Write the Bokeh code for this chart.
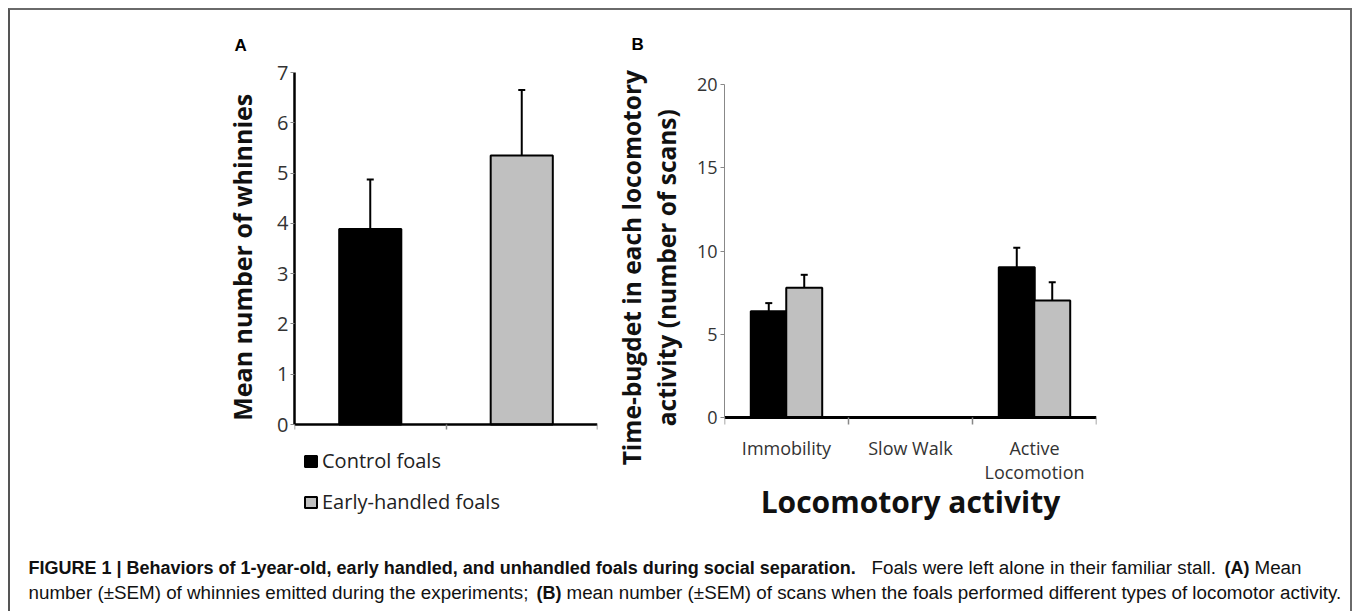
from bokeh.plotting import figure
from bokeh.layouts import row, column
from bokeh.models import (ColumnDataSource, FixedTicker, Whisker, TeeHead, Legend,
                          LegendItem, Label, Range1d, Title)
from bokeh.embed import file_html
from bokeh.resources import INLINE

# ---------------- data ----------------
# Panel A: mean number of whinnies (+SEM)
groups = ["Control foals", "Early-handled foals"]
whinnies_mean = [3.89, 5.35]
whinnies_sem = [0.98, 1.30]
a_ticks = [0, 1, 2, 3, 4, 5, 6, 7]

# Panel B: time budget per locomotory activity (+SEM)
activities = ["Immobility", "Slow Walk", "Active\nLocomotion"]
control_scans = [6.38, 0.0, 9.03]
control_sem = [0.49, 0.0, 1.16]
handled_scans = [7.79, 0.0, 7.03]
handled_sem = [0.78, 0.0, 1.10]
b_ticks = [0, 5, 10, 15, 20]

group_colors = ["#000000", "#c0c0c0"]

a_ylabel = "Mean number of whinnies"
b_ylabel = ["Time-bugdet in each locomotory", "activity (number of scans)"]
b_xlabel = "Locomotory activity"

caption_line1 = [
    ("FIGURE 1 | Behaviors of 1-year-old, early handled, and unhandled foals during social separation.", "bold"),
    ("Foals were left alone in their familiar stall.", "normal"),
    ("(A)", "bold"),
    ("Mean", "normal"),
]
caption_line2 = [
    ("number (\u00b1SEM) of whinnies emitted during the experiments;", "normal"),
    ("(B)", "bold"),
    ("mean number (\u00b1SEM) of scans when the foals performed different types of locomotor activity.", "normal"),
]

FONT = "Open Sans"
CAP_FONT = "Liberation Sans"
NB = "\u00a0"          # non-breaking space: nudges the rotated axis titles along their axis

FRAME_H = 454          # common frame height for both panels (px)
A_MAX, B_MAX = 7, 20   # axis maxima
A_UNIT = 352 / A_MAX   # px per unit, panel A
B_UNIT = 333 / B_MAX   # px per unit, panel B

# ---------------- panel A ----------------
a_lo = -(FRAME_H - 352) / A_UNIT
pa = figure(frame_width=303, frame_height=FRAME_H, x_range=Range1d(0, len(groups)),
            y_range=Range1d(a_lo, A_MAX),
            output_backend="svg", toolbar_location=None,
            min_border_left=284, min_border_right=3, min_border_top=62, min_border_bottom=29)
pa.align = "start"
pa.grid.visible = False
pa.outline_line_color = None
pa.title = Title(text="A", align="left", offset=-60, standoff=36, text_font=CAP_FONT,
                 text_font_style="bold", text_font_size="17px", text_color="black")

src_a = ColumnDataSource(dict(
    x=[i + 0.5 for i in range(len(groups))],
    top=whinnies_mean,
    upper=[m + s for m, s in zip(whinnies_mean, whinnies_sem)],
    color=group_colors,
    label=groups,
))
ra = pa.vbar(x="x", top="top", width=0.41, fill_color="color", line_color="black",
             line_width=2, source=src_a)
pa.add_layout(Whisker(base="x", lower="top", upper="upper", source=src_a, dimension="height",
                      line_color="black", line_width=2,
                      lower_head=TeeHead(size=0, line_alpha=0),
                      upper_head=TeeHead(size=7, line_width=2, line_color="black")))

a_bounds = list(range(len(groups) + 1))
pa.xaxis.fixed_location = 0
pa.xaxis.ticker = FixedTicker(ticks=a_bounds)
pa.xaxis.major_label_overrides = {b: " " for b in a_bounds}
pa.xaxis.major_label_text_font_size = "6px"
pa.xaxis.axis_line_color = "black"
pa.xaxis.axis_line_width = 2.5
pa.xaxis.major_tick_line_color = "#888888"
pa.xaxis.major_tick_line_width = 1.5
pa.xaxis.major_tick_out = 5
pa.xaxis.major_tick_in = 0
pa.xaxis.minor_tick_line_color = None

pa.yaxis.bounds = (0, A_MAX)
pa.yaxis.ticker = FixedTicker(ticks=a_ticks)
pa.yaxis.axis_line_color = "black"
pa.yaxis.axis_line_width = 2.5
pa.yaxis.major_tick_line_color = "#888888"
pa.yaxis.major_tick_out = 4
pa.yaxis.major_tick_in = 0
pa.yaxis.minor_tick_line_color = None
pa.yaxis.major_label_text_font = FONT
pa.yaxis.major_label_text_font_size = "20px"
pa.yaxis.major_label_text_color = "#333333"
pa.yaxis.major_label_standoff = 2
pa.yaxis.axis_label = NB * 13 + a_ylabel
pa.yaxis.axis_label_text_font = FONT
pa.yaxis.axis_label_text_font_style = "bold"
pa.yaxis.axis_label_text_font_size = "25px"
pa.yaxis.axis_label_text_color = "#111111"
pa.yaxis.axis_label_standoff = 15

legend = Legend(items=[LegendItem(label=g, renderers=[ra], index=i) for i, g in enumerate(groups)],
                location=(9, 11), orientation="vertical")
legend.border_line_color = None
legend.background_fill_alpha = 0
legend.glyph_width = 15
legend.glyph_height = 14
legend.label_text_font = FONT
legend.label_text_font_size = "20px"
legend.label_text_color = "#222222"
legend.label_standoff = 4
legend.spacing = 14
legend.padding = 11
legend.margin = 0
pa.add_layout(legend)

# ---------------- panel B ----------------
b_hi = B_MAX + 12 / B_UNIT
b_lo = -(FRAME_H - 333 - 12) / B_UNIT
pb = figure(frame_width=372, frame_height=FRAME_H, x_range=Range1d(0, len(activities)),
            y_range=Range1d(b_lo, b_hi),
            output_backend="svg", toolbar_location=None,
            min_border_left=124, min_border_right=254, min_border_top=62, min_border_bottom=29)
pb.align = "start"
pb.grid.visible = False
pb.outline_line_color = None
pb.title = Title(text="B", align="left", offset=-93, standoff=37, text_font=CAP_FONT,
                 text_font_style="bold", text_font_size="17px", text_color="black")

dodge = 0.143
bar_w = 0.29
series = [(control_scans, control_sem, -dodge, group_colors[0]),
          (handled_scans, handled_sem, dodge, group_colors[1])]
for vals, sems, off, col in series:
    xs = [i + 0.5 + off for i, v in enumerate(vals) if v > 0]
    tops = [v for v in vals if v > 0]
    ups = [v + s for v, s in zip(vals, sems) if v > 0]
    s = ColumnDataSource(dict(x=xs, top=tops, upper=ups))
    pb.vbar(x="x", top="top", width=bar_w, fill_color=col, line_color="black",
            line_width=2, source=s)
    pb.add_layout(Whisker(base="x", lower="top", upper="upper", source=s, dimension="height",
                          line_color="black", line_width=2,
                          lower_head=TeeHead(size=0, line_alpha=0),
                          upper_head=TeeHead(size=7, line_width=2, line_color="black")))

centers = [i + 0.5 for i in range(len(activities))]
pb.xaxis.fixed_location = 0
pb.xaxis.ticker = FixedTicker(ticks=centers, minor_ticks=list(range(len(activities) + 1)))
pb.xaxis.major_label_overrides = {c: a for c, a in zip(centers, activities)}
pb.xaxis.axis_line_color = "black"
pb.xaxis.axis_line_width = 3
pb.xaxis.major_tick_out = 0
pb.xaxis.major_tick_in = 0
pb.xaxis.major_tick_line_color = None
pb.xaxis.minor_tick_line_color = "#888888"
pb.xaxis.minor_tick_line_width = 1.5
pb.xaxis.minor_tick_out = 7
pb.xaxis.minor_tick_in = 0
pb.xaxis.major_label_text_font = FONT
pb.xaxis.major_label_text_font_size = "18px"
pb.xaxis.major_label_text_line_height = 1.0
pb.xaxis.major_label_text_color = "#333333"
pb.xaxis.major_label_standoff = 11
pb.xaxis.axis_label = b_xlabel
pb.xaxis.axis_label_text_font = FONT
pb.xaxis.axis_label_text_font_style = "bold"
pb.xaxis.axis_label_text_font_size = "30px"
pb.xaxis.axis_label_text_color = "#111111"
pb.xaxis.axis_label_standoff = -6

pb.yaxis.bounds = (0, B_MAX)
pb.yaxis.ticker = FixedTicker(ticks=b_ticks)
pb.yaxis.axis_line_color = "#888888"
pb.yaxis.axis_line_width = 1
pb.yaxis.major_tick_line_color = "#888888"
pb.yaxis.major_tick_out = 4
pb.yaxis.major_tick_in = 0
pb.yaxis.minor_tick_line_color = None
pb.yaxis.major_label_text_font = FONT
pb.yaxis.major_label_text_font_size = "18px"
pb.yaxis.major_label_text_color = "#333333"
pb.yaxis.major_label_standoff = 3
pb.yaxis.axis_label = "\n".join(NB * 10 + t for t in b_ylabel)
pb.yaxis.axis_label_text_font = FONT
pb.yaxis.axis_label_text_font_style = "bold"
pb.yaxis.axis_label_text_font_size = "24.5px"
pb.yaxis.axis_label_text_line_height = 1.05
pb.yaxis.axis_label_text_color = "#111111"
pb.yaxis.axis_label_standoff = 11

# ---------------- caption ----------------
CW, CH = 1340, 56
pc = figure(width=CW, height=CH, x_range=Range1d(0, CW), y_range=Range1d(0, CH),
            output_backend="svg", toolbar_location=None,
            x_axis_location=None, y_axis_location=None,
            min_border=0, min_border_left=0, min_border_right=0,
            min_border_top=0, min_border_bottom=0)
pc.align = "start"
pc.grid.visible = False
pc.outline_line_color = None

line1_x = [18, 861, 1214, 1244]
line2_x = [18, 526, 556]
sizes = {"bold": "18px", "normal": "18.8px"}
for (txt, style), xx in zip(caption_line1, line1_x):
    pc.add_layout(Label(x=xx, y=44, text=txt, text_font=CAP_FONT, text_font_style=style,
                        text_font_size=sizes[style], text_color="#111111",
                        text_baseline="alphabetic"))
for (txt, style), xx in zip(caption_line2, line2_x):
    pc.add_layout(Label(x=xx, y=19, text=txt, text_font=CAP_FONT, text_font_style=style,
                        text_font_size=sizes[style], text_color="#111111",
                        text_baseline="alphabetic"))

layout = column(row(pa, pb), pc,
                styles={"margin-left": "8px", "margin-top": "8px",
                        "border-top": "2px solid #6a6a6a", "border-left": "2px solid #555555",
                        "border-right": "2px solid #6a6a6a"})

open("out.html", "w").write(file_html(layout, INLINE))
